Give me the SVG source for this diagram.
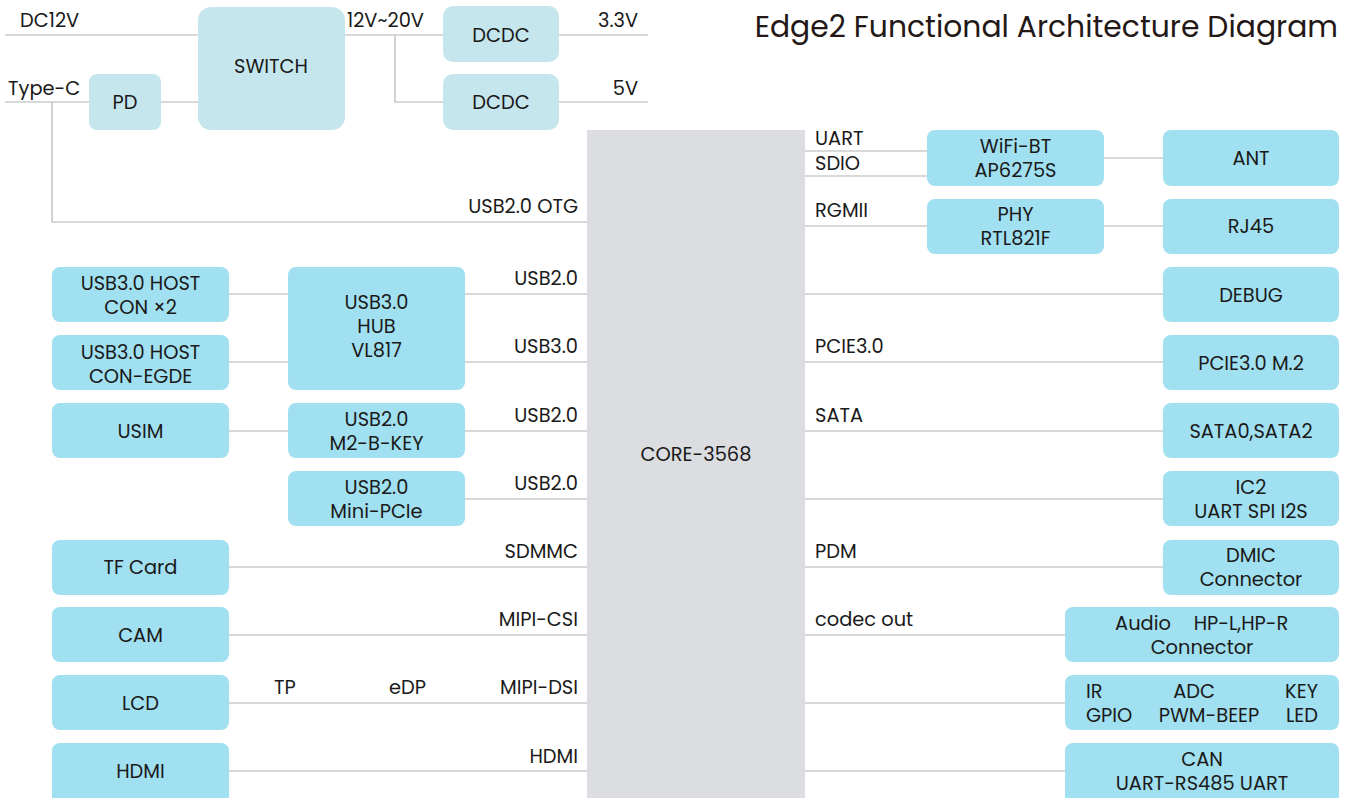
<svg xmlns="http://www.w3.org/2000/svg" width="1351" height="798" viewBox="0 0 1351 798">
<style>
text{font-family:"Poppins","Noto Sans","Liberation Sans",sans-serif;font-size:19.4px;fill:#1a1a1a}
.c{text-anchor:middle;dominant-baseline:central}
.r{text-anchor:end}
.p{fill:#c6e6ee}
.b{fill:#a1e0f0}
.core{fill:#dcdde1}
.ln{stroke:#b4b4b4;stroke-width:1.2;fill:none}
.t{font-size:29.8px;fill:#231815}
</style>
<rect width="1351" height="798" fill="#fff"/>
<text class="t" x="1338" y="37" text-anchor="end">Edge2 Functional Architecture Diagram</text>

<g id="connectors">
<path class="ln" d="M5 35H198M345 35H443M395 35V102H443M559 35H648M559 102H648"/>
<path class="ln" d="M5 102H89M161 102H198M52 102V222H587"/>
<path class="ln" d="M229 294H288M465 294H587M229 362H288M465 362H587M229 431H288M465 431H587M465 499H587M229 567H587M229 635H587M229 703H587M229 771H587"/>
<path class="ln" d="M805 151H927M805 176H927M1104 158H1163M805 226H927M1104 226H1163M805 294H1163M805 362H1163M805 431H1163M805 499H1163M805 567H1163M805 635H1065M805 703H1065M805 771H1065"/>
<text x="20" y="27">DC12V</text>
<text x="8" y="95">Type-C</text>
<text x="347" y="27">12V~20V</text>
<text class="r" x="638" y="27">3.3V</text>
<text class="r" x="638" y="95">5V</text>
<text class="r" x="578" y="213">USB2.0 OTG</text>
<text class="r" x="578" y="285">USB2.0</text>
<text class="r" x="578" y="353">USB3.0</text>
<text class="r" x="578" y="422">USB2.0</text>
<text class="r" x="578" y="490">USB2.0</text>
<text class="r" x="578" y="558">SDMMC</text>
<text class="r" x="578" y="626">MIPI-CSI</text>
<text class="r" x="578" y="694">MIPI-DSI</text>
<text class="r" x="578" y="763">HDMI</text>
<text x="274" y="694">TP</text>
<text x="389" y="694">eDP</text>
<text x="815" y="145">UART</text>
<text x="815" y="170">SDIO</text>
<text x="815" y="217">RGMII</text>
<text x="815" y="353">PCIE3.0</text>
<text x="815" y="422">SATA</text>
<text x="815" y="558">PDM</text>
<text x="815" y="626">codec out</text>
</g>

<g id="switch"><rect class="p" x="198" y="7" width="147" height="123" rx="13"/><text class="c" x="271" y="66">SWITCH</text></g>
<g id="pd"><rect class="p" x="89" y="74" width="72" height="56" rx="8"/><text class="c" x="125" y="102">PD</text></g>
<g id="dcdc1"><rect class="p" x="443" y="6" width="116" height="56" rx="10"/><text class="c" x="501" y="35">DCDC</text></g>
<g id="dcdc2"><rect class="p" x="443" y="74" width="116" height="56" rx="10"/><text class="c" x="501" y="102">DCDC</text></g>

<g id="core"><rect class="core" x="587" y="130" width="218" height="668"/><text class="c" x="696" y="454">CORE-3568</text></g>

<g id="usb3host1"><rect class="b" x="52" y="267" width="177" height="55" rx="8"/><text class="c" x="140.5" y="283">USB3.0 HOST</text><text class="c" x="140.5" y="307">CON ×2</text></g>
<g id="usb3host2"><rect class="b" x="52" y="335" width="177" height="55" rx="8"/><text class="c" x="140.5" y="352">USB3.0 HOST</text><text class="c" x="140.5" y="376">CON-EGDE</text></g>
<g id="usim"><rect class="b" x="52" y="403" width="177" height="55" rx="8"/><text class="c" x="140.5" y="431">USIM</text></g>
<g id="tfcard"><rect class="b" x="52" y="540" width="177" height="55" rx="8"/><text class="c" x="140.5" y="567">TF Card</text></g>
<g id="cam"><rect class="b" x="52" y="607" width="177" height="55" rx="8"/><text class="c" x="140.5" y="635">CAM</text></g>
<g id="lcd"><rect class="b" x="52" y="675" width="177" height="55" rx="8"/><text class="c" x="140.5" y="703">LCD</text></g>
<g id="hdmi"><rect class="b" x="52" y="743" width="177" height="62" rx="8"/><text class="c" x="140.5" y="771">HDMI</text></g>

<g id="hub"><rect class="b" x="288" y="267" width="177" height="123" rx="8"/><text class="c" x="376.5" y="302">USB3.0</text><text class="c" x="376.5" y="326">HUB</text><text class="c" x="376.5" y="350">VL817</text></g>
<g id="m2bkey"><rect class="b" x="288" y="403" width="177" height="55" rx="8"/><text class="c" x="376.5" y="419">USB2.0</text><text class="c" x="376.5" y="443">M2-B-KEY</text></g>
<g id="minipcie"><rect class="b" x="288" y="471" width="177" height="55" rx="8"/><text class="c" x="376.5" y="487">USB2.0</text><text class="c" x="376.5" y="511">Mini-PCIe</text></g>

<g id="wifi"><rect class="b" x="927" y="130" width="177" height="56" rx="8"/><text class="c" x="1015.5" y="146">WiFi-BT</text><text class="c" x="1015.5" y="170">AP6275S</text></g>
<g id="ant"><rect class="b" x="1163" y="130" width="176" height="56" rx="8"/><text class="c" x="1251" y="158">ANT</text></g>
<g id="phy"><rect class="b" x="927" y="199" width="177" height="55" rx="8"/><text class="c" x="1015.5" y="214">PHY</text><text class="c" x="1015.5" y="238">RTL821F</text></g>
<g id="rj45"><rect class="b" x="1163" y="199" width="176" height="55" rx="8"/><text class="c" x="1251" y="226">RJ45</text></g>
<g id="debug"><rect class="b" x="1163" y="267" width="176" height="55" rx="8"/><text class="c" x="1251" y="295">DEBUG</text></g>
<g id="pcie"><rect class="b" x="1163" y="335" width="176" height="55" rx="8"/><text class="c" x="1251" y="363">PCIE3.0 M.2</text></g>
<g id="sata"><rect class="b" x="1163" y="403" width="176" height="55" rx="8"/><text class="c" x="1251" y="431">SATA0,SATA2</text></g>
<g id="ic2"><rect class="b" x="1163" y="471" width="176" height="55" rx="8"/><text class="c" x="1251" y="487">IC2</text><text class="c" x="1251" y="511">UART SPI I2S</text></g>
<g id="dmic"><rect class="b" x="1163" y="540" width="176" height="55" rx="8"/><text class="c" x="1251" y="555">DMIC</text><text class="c" x="1251" y="579">Connector</text></g>
<g id="audio"><rect class="b" x="1065" y="607" width="274" height="55" rx="8"/><text class="c" x="1143" y="623">Audio</text><text class="c" x="1241" y="623">HP-L,HP-R</text><text class="c" x="1202" y="647">Connector</text></g>
<g id="gpio"><rect class="b" x="1065" y="675" width="274" height="55" rx="8"/><text x="1086" y="698">IR</text><text class="c" x="1194" y="691">ADC</text><text class="r" x="1318" y="698">KEY</text><text x="1086" y="722">GPIO</text><text class="c" x="1209" y="715">PWM-BEEP</text><text class="r" x="1318" y="722">LED</text></g>
<g id="can"><rect class="b" x="1065" y="743" width="274" height="62" rx="8"/><text class="c" x="1202" y="759">CAN</text><text class="c" x="1202" y="783">UART-RS485 UART</text></g>
</svg>
